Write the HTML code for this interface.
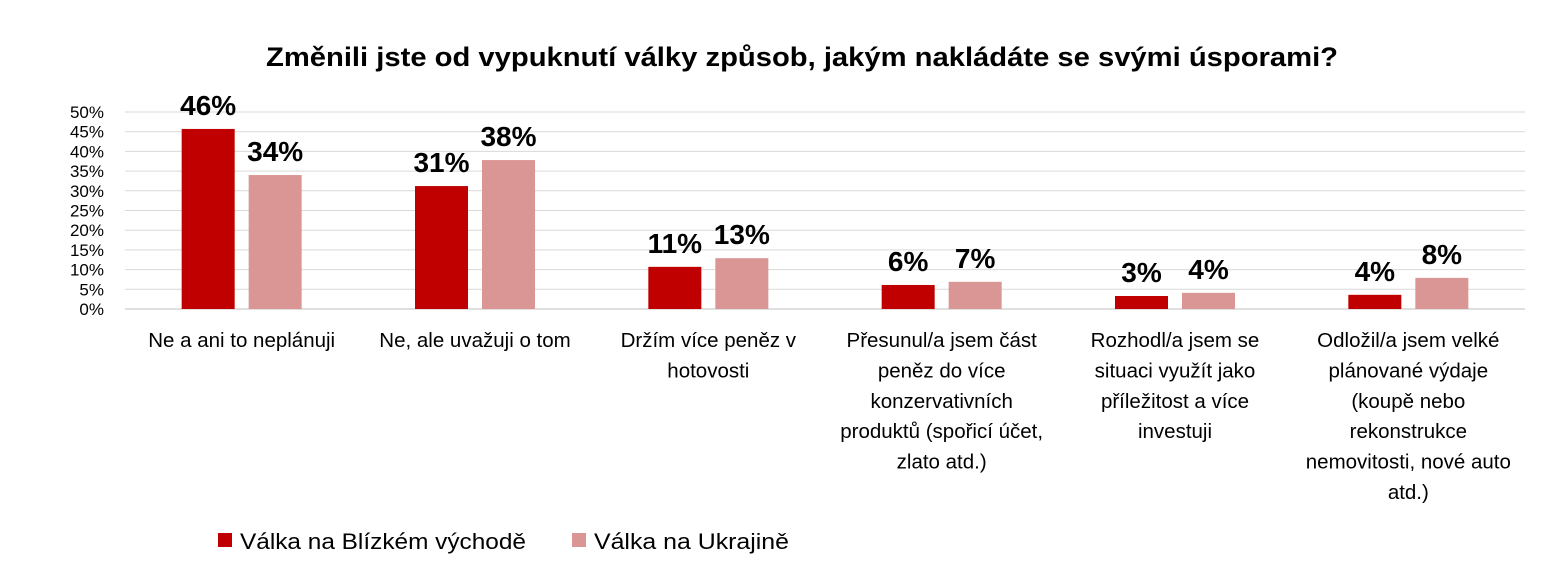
<!DOCTYPE html>
<html><head><meta charset="utf-8"><style>
body{margin:0;background:#fff;}
svg{display:block;font-family:"Liberation Sans",Arial,sans-serif;}
</style></head><body>
<svg id="chart" width="1564" height="574">
<text x="266" y="66" textLength="1072" lengthAdjust="spacingAndGlyphs" font-size="27" font-weight="bold" fill="#000">Změnili jste od vypuknutí války způsob, jakým nakládáte se svými úsporami?</text>
<g id="grid"></g><g id="bars"></g><g id="labels"></g><g id="cats"></g>
<g>
<rect x="218" y="533" width="14" height="14" fill="#c00000"/>
<text x="240" y="549" font-size="22" textLength="286" lengthAdjust="spacingAndGlyphs" fill="#000">Válka na Blízkém východě</text>
<rect x="572" y="533" width="14" height="14" fill="#d99694"/>
<text x="594" y="549" font-size="22" textLength="195" lengthAdjust="spacingAndGlyphs" fill="#000">Válka na Ukrajině</text>
</g>
</svg>
<script>
const categories=[["Ne a ani to neplánuji"],["Ne, ale uvažuji o tom"],["Držím více peněz v","hotovosti"],["Přesunul/a jsem část","peněz do více","konzervativních","produktů (spořicí účet,","zlato atd.)"],["Rozhodl/a jsem se","situaci využít jako","příležitost a více","investuji"],["Odložil/a jsem velké","plánované výdaje","(koupě nebo","rekonstrukce","nemovitosti, nové auto","atd.)"]];
const middleEast=[45.7,31.2,10.7,6.1,3.3,3.6];
const ukraine=[34.0,37.8,12.9,6.9,4.1,7.9];
const middleEastLabels=["46%","31%","11%","6%","3%","4%"];
const ukraineLabels=["34%","38%","13%","7%","4%","8%"];
const yTicks=[0,5,10,15,20,25,30,35,40,45,50];
const NS="http://www.w3.org/2000/svg";
const x0=125,x1=1525,y0=309,y50=112;
const yScale=v=>y0-(v/50)*(y0-y50);
const bandW=(x1-x0)/categories.length;
const xCenter=i=>x0+bandW*(i+0.5);
function mk(tag,attrs,parent){const e=document.createElementNS(NS,tag);for(const k in attrs)e.setAttribute(k,attrs[k]);parent.appendChild(e);return e;}
const grid=document.getElementById('grid');
yTicks.forEach(t=>{
 const l=mk('line',{x1:x0,x2:x1,y1:yScale(t),y2:yScale(t),stroke:t===0?'#bfbfbf':'#d9d9d9','stroke-width':1},grid);
 
 
 const tx=mk('text',{x:104,y:yScale(t)+6,'text-anchor':'end','font-size':17,fill:'#000'},grid);
 tx.textContent=t+'%';
 
 
});
const bars=document.getElementById('bars'),labels=document.getElementById('labels'),cats=document.getElementById('cats');
const bw=53,gap=14;
categories.forEach((c,i)=>{
 const cx=xCenter(i);
 [[middleEast,middleEastLabels,'#c00000',cx-gap/2-bw,'middle-east'],[ukraine,ukraineLabels,'#d99694',cx+gap/2,'ukraine']].forEach(([vals,labs,col,bx,nm])=>{
  const y=yScale(vals[i]);
  const r=mk('rect',{x:bx,y:y,width:bw,height:y0-y,fill:col},bars);
  
  
  const t=mk('text',{x:bx+bw/2,y:y-14,'text-anchor':'middle','font-size':28,'font-weight':'bold',fill:'#000'},labels);
  t.textContent=labs[i];
  
  
 });
 const ct=mk('text',{'text-anchor':'middle','font-size':20.5,fill:'#000'},cats);
 
 
 c.forEach((line,j)=>{const ts=mk('tspan',{x:cx,y:347+j*30.4},ct);ts.textContent=line;});
});
</script>
</body></html>
